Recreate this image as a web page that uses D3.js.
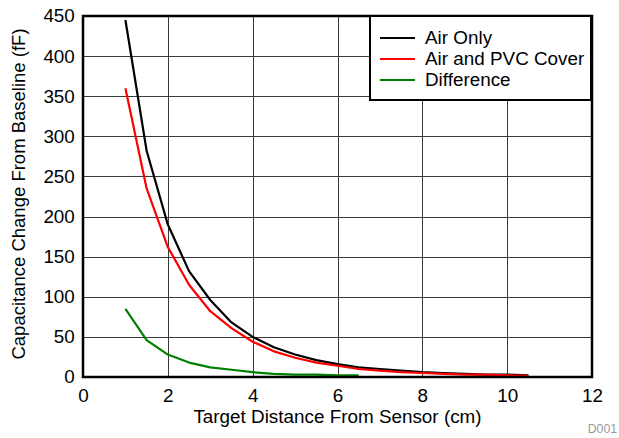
<!DOCTYPE html>
<html>
<head>
<meta charset="utf-8">
<script src="https://cdn.jsdelivr.net/npm/d3@7"></script>
<style>
  body { margin: 0; background: #fff; }
  text { font-family: "Liberation Sans", Arial, sans-serif; fill: #000; }
</style>
</head>
<body>
<svg id="chart" width="619" height="438"></svg>
<script>
// Data
var distance   = [1, 1.5, 2, 2.5, 3, 3.5, 4, 4.5, 5, 5.5, 6, 6.5, 7, 7.5, 8, 8.5, 9, 9.5, 10, 10.5];
var airOnly    = [445, 282, 190, 132, 96, 68, 50, 37, 28, 21, 16, 12, 10, 8, 6, 5, 4, 3, 3, 2];
var airPvc     = [360, 235, 162, 115, 82, 61, 44, 32, 24, 18, 14, 10, 8, 6, 5, 4, 3, 3, 2, 1.5];
var diffDist   = [1, 1.5, 2, 2.5, 3, 3.5, 4, 4.5, 5, 5.5, 6, 6.5];
var difference = [85, 46, 28, 18, 12, 9, 6, 4, 3, 3, 2, 2];
var xTicks = [0, 2, 4, 6, 8, 10, 12];
var yTicks = [0, 50, 100, 150, 200, 250, 300, 350, 400, 450];

var seriesNames  = ["Air Only", "Air and PVC Cover", "Difference"];
var seriesColors = ["#000000", "#ff0000", "#008000"];

var svg = d3.select("#chart");
var margin = {top: 16, right: 27, bottom: 61, left: 83},
    width = 619 - margin.left - margin.right,
    height = 438 - margin.top - margin.bottom;

// the reference text is a touch wider than it is tall
var sx = 1.02, fs = "18.5px";

var x = d3.scaleLinear().domain([0, 12]).range([0, width]);
var y = d3.scaleLinear().domain([0, 450]).range([height, 0]);

var g = svg.append("g")
    .attr("transform", "translate(" + margin.left + "," + margin.top + ")");

// Grid
g.selectAll(".vgrid").data(xTicks.slice(1, -1)).enter().append("line")
    .attr("x1", function(d) { return Math.round(x(d)) + 0.5; })
    .attr("x2", function(d) { return Math.round(x(d)) + 0.5; })
    .attr("y1", 0).attr("y2", height)
    .attr("stroke", "#3a3a3a").attr("stroke-width", 1);

g.selectAll(".hgrid").data(yTicks.slice(1, -1)).enter().append("line")
    .attr("y1", function(d) { return Math.round(y(d)) + 0.5; })
    .attr("y2", function(d) { return Math.round(y(d)) + 0.5; })
    .attr("x1", 0).attr("x2", width)
    .attr("stroke", "#3a3a3a").attr("stroke-width", 1);

// Axes (tick labels only)
var xAxis = d3.axisBottom(x).tickValues(xTicks).tickSize(0).tickPadding(12);
var yAxis = d3.axisLeft(y).tickValues(yTicks).tickSize(0).tickPadding(8);

g.append("g").attr("transform", "translate(0," + height + ")").call(xAxis)
    .call(function(s) { s.select(".domain").remove(); })
    .selectAll("text")
    .attr("transform", "scale(" + sx + ",1)")
    .style("font-size", fs).style("font-family", "Liberation Sans, Arial, sans-serif");

g.append("g").call(yAxis)
    .call(function(s) { s.select(".domain").remove(); })
    .selectAll("text")
    .attr("transform", "scale(" + sx + ",1)")
    .style("font-size", fs).style("font-family", "Liberation Sans, Arial, sans-serif");

// Lines
var line = d3.line()
    .x(function(d) { return x(d[0]); })
    .y(function(d) { return y(d[1]); });

var allSeries = [
    d3.zip(distance, airOnly),
    d3.zip(distance, airPvc),
    d3.zip(diffDist, difference)
];

allSeries.forEach(function(pts, i) {
    g.append("path")
        .attr("d", line(pts))
        .attr("fill", "none")
        .attr("stroke", seriesColors[i])
        .attr("stroke-width", 2.2)
        .attr("stroke-linejoin", "round");
});

// Plot border
g.append("rect")
    .attr("x", 0).attr("y", 0)
    .attr("width", width).attr("height", height)
    .attr("fill", "none").attr("stroke", "#000").attr("stroke-width", 2.5);

// Legend
var lg = g.append("g").attr("transform", "translate(" + (370 - margin.left) + ",0)");
lg.append("rect")
    .attr("x", 0).attr("y", 0).attr("width", 221).attr("height", 84)
    .attr("fill", "#fff").attr("stroke", "#000").attr("stroke-width", 2);

seriesNames.forEach(function(name, i) {
    var ly = 22 + i * 21;
    lg.append("line")
        .attr("x1", 10).attr("x2", 45).attr("y1", ly).attr("y2", ly)
        .attr("stroke", seriesColors[i]).attr("stroke-width", 2.2);
    lg.append("text")
        .attr("transform", "translate(55," + ly + ") scale(" + sx + ",1)")
        .attr("dy", "0.35em")
        .style("font-size", fs)
        .text(name);
});

// Axis titles
svg.append("text")
    .attr("transform", "translate(" + (margin.left + width / 2) + ",423) scale(" + sx + ",1)")
    .attr("text-anchor", "middle")
    .style("font-size", fs)
    .text("Target Distance From Sensor (cm)");

svg.append("text")
    .attr("transform", "rotate(-90)")
    .attr("x", -194).attr("y", 25)
    .attr("text-anchor", "middle")
    .style("font-size", fs)
    .text("Capacitance Change From Baseline (fF)");

svg.append("text")
    .attr("transform", "translate(617,433) scale(" + sx + ",1)")
    .attr("text-anchor", "end")
    .style("font-size", "12px")
    .style("fill", "#999")
    .text("D001");
</script>
</body>
</html>
